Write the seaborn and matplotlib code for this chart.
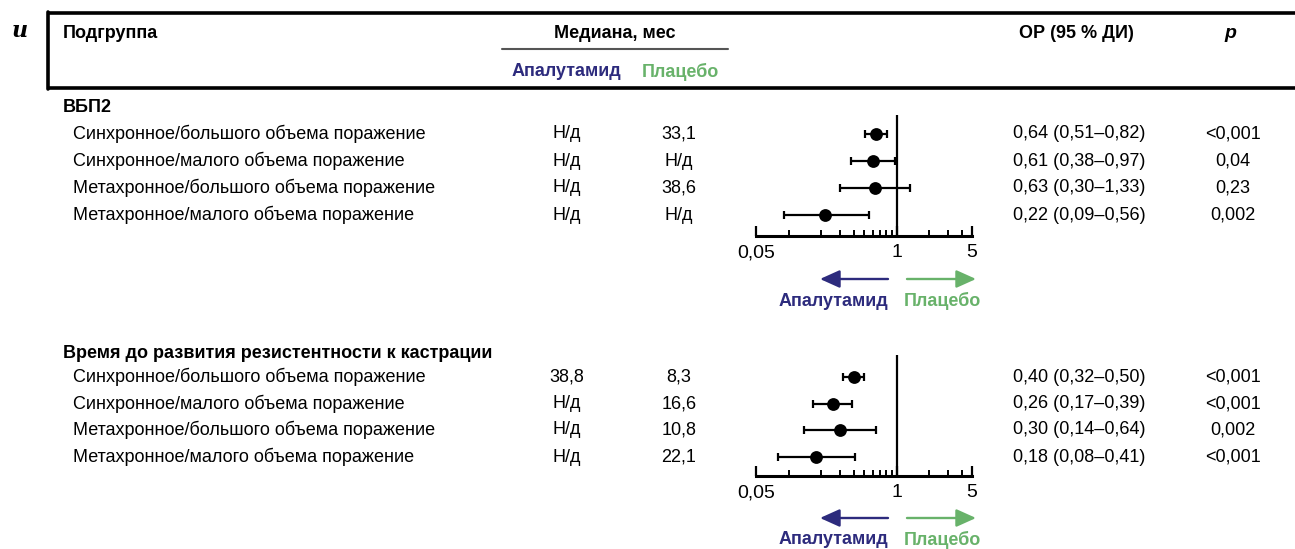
import matplotlib
matplotlib.use("Agg")
import matplotlib.pyplot as plt
import seaborn as sns
import pandas as pd
import numpy as np
from matplotlib.ticker import FixedLocator, NullFormatter

sns.set_theme(style="white")
FAM = ["Liberation Sans Narrow", "Liberation Sans", "DejaVu Sans"]
plt.rcParams["font.family"] = FAM
plt.rcParams["text.color"] = "black"
plt.rcParams["xtick.color"] = "black"

# ---------------- data ----------------
subgroups = [
    "Синхронное/большого объема поражение",
    "Синхронное/малого объема поражение",
    "Метахронное/большого объема поражение",
    "Метахронное/малого объема поражение",
]
section_titles = ["ВБП2", "Время до развития резистентности к кастрации"]

med_apa_1 = ["Н/д", "Н/д", "Н/д", "Н/д"]
med_pla_1 = ["33,1", "Н/д", "38,6", "Н/д"]
hr_1 = [0.64, 0.61, 0.63, 0.22]
lo_1 = [0.51, 0.38, 0.30, 0.09]
hi_1 = [0.82, 0.97, 1.33, 0.56]
hr_txt_1 = ["0,64 (0,51–0,82)", "0,61 (0,38–0,97)", "0,63 (0,30–1,33)", "0,22 (0,09–0,56)"]
p_1 = ["<0,001", "0,04", "0,23", "0,002"]

med_apa_2 = ["38,8", "Н/д", "Н/д", "Н/д"]
med_pla_2 = ["8,3", "16,6", "10,8", "22,1"]
hr_2 = [0.40, 0.26, 0.30, 0.18]
lo_2 = [0.32, 0.17, 0.14, 0.08]
hi_2 = [0.50, 0.39, 0.64, 0.41]
hr_txt_2 = ["0,40 (0,32–0,50)", "0,26 (0,17–0,39)", "0,30 (0,14–0,64)", "0,18 (0,08–0,41)"]
p_2 = ["<0,001", "<0,001", "0,002", "<0,001"]

x_ticks_major = [0.05, 1, 5]
x_tick_labels = ["0,05", "1", "5"]

NAVY = "#2d2b7d"
GREEN = "#68b26a"

W, H = 1295, 549
fig = plt.figure(figsize=(W / 100, H / 100), dpi=100)

# overlay axes in pixel coordinates for table text
ov = fig.add_axes([0, 0, 1, 1])
ov.set_xlim(0, W)
ov.set_ylim(H, 0)
ov.axis("off")

FS = 13
# panel label
ov.text(12, 31, "и", fontsize=16, fontweight="bold", fontstyle="italic",
        family=["DejaVu Serif"], va="center", ha="left", color="black")
# header box
ov.plot([48, W], [13, 13], color="black", lw=2.6, solid_capstyle="butt")
ov.plot([48, W], [88, 88], color="black", lw=2.6, solid_capstyle="butt")
ov.plot([48, 48], [12, 89], color="black", lw=2.6)
ov.plot([502, 728], [49, 49], color="#555555", lw=1.5)

ov.text(63, 33, "Подгруппа", fontsize=FS, fontweight="bold", va="center", ha="left")
ov.text(615, 33, "Медиана, мес", fontsize=FS, fontweight="bold", va="center", ha="center")
ov.text(566, 72, "Апалутамид", fontsize=FS, fontweight="bold", color=NAVY, va="center", ha="center")
ov.text(680, 72, "Плацебо", fontsize=FS, fontweight="bold", color=GREEN, va="center", ha="center")
ov.text(1076, 33, "ОР (95 % ДИ)", fontsize=FS, fontweight="bold", va="center", ha="center")
ov.text(1230, 33, "p", fontsize=FS + 1, fontweight="bold", fontstyle="italic", va="center", ha="center")

panels = [
    dict(title_y=108, rows=[134, 161, 188, 215], vtop=115, axis_y=236,
         apa=med_apa_1, pla=med_pla_1, hr=hr_1, lo=lo_1, hi=hi_1, txt=hr_txt_1, p=p_1,
         arrow_y=279, lab_y=301),
    dict(title_y=354, rows=[377, 404, 430, 457], vtop=355, axis_y=476,
         apa=med_apa_2, pla=med_pla_2, hr=hr_2, lo=lo_2, hi=hi_2, txt=hr_txt_2, p=p_2,
         arrow_y=518, lab_y=540),
]

X0, X1 = 756, 972  # forest axis extents in px

for k, pn in enumerate(panels):
    ov.text(63, pn["title_y"], section_titles[k], fontsize=FS, fontweight="bold",
            va="center", ha="left")
    for i, y in enumerate(pn["rows"]):
        ov.text(73, y, subgroups[i], fontsize=FS, va="center", ha="left")
        ov.text(567, y, pn["apa"][i], fontsize=FS, va="center", ha="center")
        ov.text(679, y, pn["pla"][i], fontsize=FS, va="center", ha="center")
        ov.text(1013, y, pn["txt"][i], fontsize=FS, va="center", ha="left")
        ov.text(1233, y, pn["p"][i], fontsize=FS, va="center", ha="center")

    # forest axes
    rows = pn["rows"]
    step = (rows[-1] - rows[0]) / 3
    top, bot = pn["vtop"], pn["axis_y"]
    ax = fig.add_axes([X0 / W, 1 - bot / H, (X1 - X0) / W, (bot - top) / H])
    ax.set_facecolor("none")
    ax.set_xscale("log")
    ax.set_xlim(0.05, 5)
    ylo = (top - rows[0]) / step
    yhi = 3 + (bot - rows[-1]) / step
    ax.set_ylim(yhi, ylo)
    df = pd.DataFrame({"hr": pn["hr"], "lo": pn["lo"], "hi": pn["hi"], "row": np.arange(4)})
    ax.errorbar(df["hr"], df["row"], xerr=[df["hr"] - df["lo"], df["hi"] - df["hr"]],
                fmt="none", ecolor="black", elinewidth=1.6, capsize=2.8, capthick=1.6, zorder=2)
    sns.scatterplot(data=df, x="hr", y="row", ax=ax, s=85, color="black",
                    edgecolor="black", linewidth=0, zorder=3, legend=False)
    ax.axvline(1, color="black", lw=1.6, zorder=1)
    for s in ["top", "right", "left"]:
        ax.spines[s].set_visible(False)
    ax.spines["bottom"].set_linewidth(2.2)
    ax.spines["bottom"].set_color("black")
    ax.set_yticks([])
    ax.set_ylabel("")
    ax.set_xlabel("")
    ax.xaxis.set_major_locator(FixedLocator(x_ticks_major))
    ax.set_xticklabels(x_tick_labels)
    ax.xaxis.set_minor_locator(FixedLocator([0.1, 0.2, 0.3, 0.4, 0.5, 0.6, 0.7, 0.8, 0.9, 2, 3, 4]))
    ax.xaxis.set_minor_formatter(NullFormatter())
    ax.tick_params(axis="x", which="major", direction="in", length=7, width=1.6,
                   labelsize=FS + 1, pad=6, bottom=True, colors="black")
    ax.tick_params(axis="x", which="minor", direction="in", length=4.5, width=1.4,
                   bottom=True, colors="black")

    # arrows
    ay = pn["arrow_y"]
    ov.annotate("", xy=(820, ay), xytext=(888, ay),
                arrowprops=dict(arrowstyle="-|>,head_length=1.0,head_width=0.45",
                                color=NAVY, lw=1.7, shrinkA=0, shrinkB=0))
    ov.annotate("", xy=(976, ay), xytext=(907, ay),
                arrowprops=dict(arrowstyle="-|>,head_length=1.0,head_width=0.45",
                                color=GREEN, lw=1.7, shrinkA=0, shrinkB=0))
    ov.text(888, pn["lab_y"], "Апалутамид", fontsize=FS, fontweight="bold", color=NAVY,
            va="center", ha="right")
    ov.text(904, pn["lab_y"], "Плацебо", fontsize=FS, fontweight="bold", color=GREEN,
            va="center", ha="left")

fig.savefig("out.png", dpi=100)
